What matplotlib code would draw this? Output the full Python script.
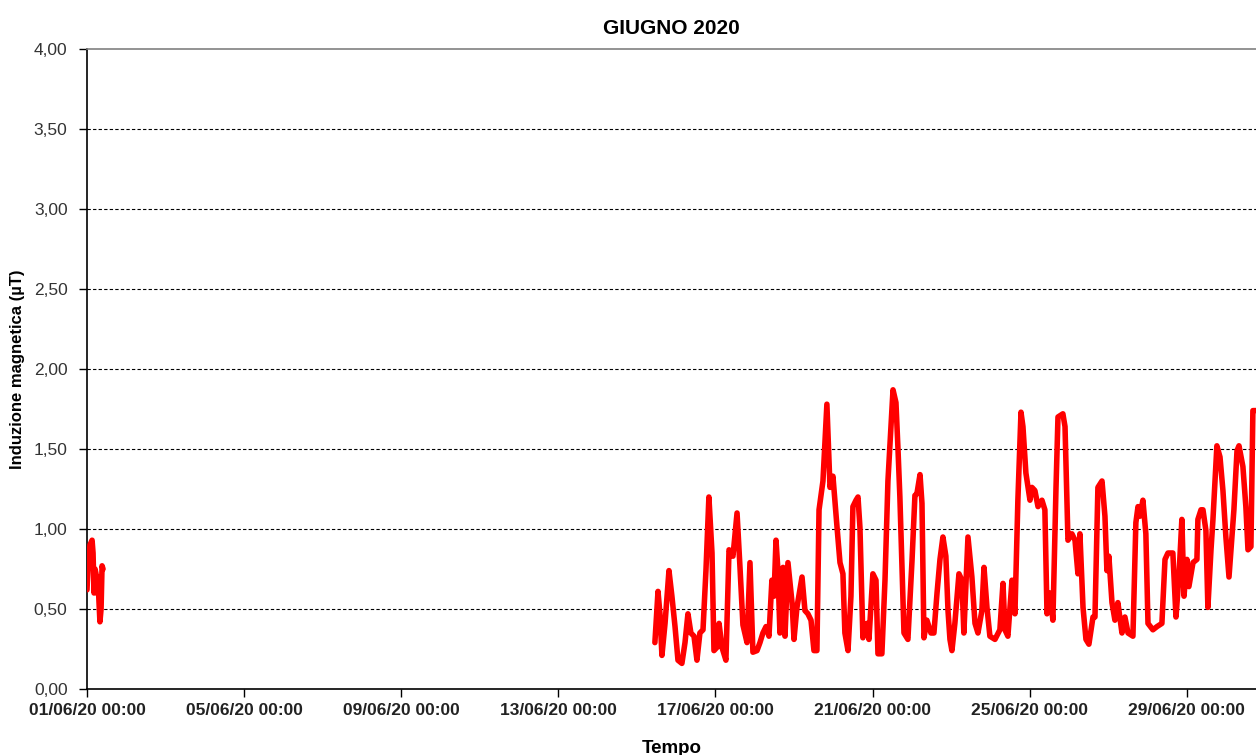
import matplotlib
matplotlib.use("Agg")
import matplotlib.pyplot as plt
import matplotlib.dates as mdates
import matplotlib.ticker as mticker
import numpy as np
import pandas as pd

# --- data: hours since 01/06/2020 00:00 and induction values (µT) ---
hours_1 = [0, 0.6, 1.8, 3.1, 3.7, 4.3, 4.9, 5.5, 6.1, 6.7, 7.3, 7.9, 8.6, 9.2, 9.8]
values_1 = [0.62, 0.75, 0.90, 0.93, 0.85, 0.60, 0.75, 0.72, 0.60, 0.70, 0.55, 0.42, 0.50, 0.77, 0.75]

hours_2 = [347.0, 348.9, 350.1, 351.3, 353.2, 355.6, 357.4, 359.3, 361.1, 363.5,
           365.4, 367.2, 369.0, 370.9, 372.7, 374.5, 376.4, 378.2, 380.0, 381.9,
           383.1, 384.9, 386.2, 388.0, 390.4, 392.3, 394.7, 397.2, 399.0, 400.8,
           403.3, 405.1, 406.9, 409.4, 411.2, 413.0, 414.9, 416.7, 418.5, 419.8,
           421.0, 422.2, 423.4, 425.3, 426.5, 428.3, 430.8, 432.0, 433.8, 436.9,
           438.7, 440.5, 442.4, 444.2, 446.0, 447.3, 449.7, 452.1, 454.0, 455.8,
           458.3, 460.1, 461.9, 463.1, 465.0, 466.8, 468.0, 469.9, 471.1, 472.3,
           474.1, 476.6, 477.8, 480.2, 482.1, 483.3, 485.7, 487.6, 489.4, 492.5,
           494.3, 495.5, 496.7, 499.2, 501.6, 504.1, 505.9, 507.1, 509.0, 510.2,
           511.4, 513.2, 515.7, 517.5, 519.4, 521.2, 523.0, 524.8, 526.1, 527.3,
           528.5, 530.3, 532.8, 534.6, 535.8, 538.3, 540.7, 542.6, 544.4, 546.8,
           548.1, 549.9, 551.7, 554.8, 557.8, 559.7, 560.9, 562.7, 565.2, 567.0,
           568.8, 570.7, 571.9, 573.7, 576.2, 577.4, 579.2, 581.1, 583.5, 585.3,
           586.6, 588.4, 590.2, 592.1, 593.3, 596.3, 597.6, 599.4, 601.8, 603.7,
           605.5, 606.7, 608.6, 610.4, 612.2, 614.7, 615.9, 617.7, 620.2, 622.0,
           623.2, 624.4, 626.3, 628.1, 629.9, 632.4, 634.2, 636.1, 639.1, 640.9,
           642.2, 643.4, 645.2, 647.0, 648.3, 651.3, 653.8, 656.8, 658.7, 660.5,
           663.5, 665.4, 667.2, 669.0, 670.3, 672.1, 673.3, 675.8, 678.2, 678.8,
           680.7, 681.9, 683.7, 684.9, 686.8, 688.0, 690.4, 692.3, 694.1, 695.9,
           697.8, 699.6, 700.8, 702.7, 703.9, 706.3, 708.1, 709.4, 711.2, 712.4,
           715.0]
values_2 = [0.29, 0.61, 0.47, 0.21, 0.41, 0.74, 0.58, 0.39, 0.18, 0.16,
            0.29, 0.47, 0.35, 0.33, 0.18, 0.35, 0.37, 0.74, 1.20, 0.85,
            0.24, 0.26, 0.41, 0.26, 0.18, 0.87, 0.83, 1.10, 0.76, 0.40,
            0.29, 0.79, 0.23, 0.24, 0.29, 0.35, 0.39, 0.33, 0.68, 0.58,
            0.93, 0.74, 0.35, 0.76, 0.33, 0.79, 0.54, 0.31, 0.51, 0.70,
            0.49, 0.47, 0.43, 0.24, 0.24, 1.12, 1.30, 1.78, 1.26, 1.33,
            1.01, 0.79, 0.72, 0.35, 0.24, 0.58, 1.14, 1.18, 1.20, 1.01,
            0.32, 0.41, 0.31, 0.72, 0.68, 0.22, 0.22, 0.68, 1.30, 1.87,
            1.79, 1.51, 1.20, 0.35, 0.31, 0.80, 1.21, 1.22, 1.34, 1.16,
            0.32, 0.43, 0.35, 0.35, 0.60, 0.81, 0.95, 0.83, 0.49, 0.31,
            0.24, 0.41, 0.72, 0.68, 0.35, 0.95, 0.70, 0.41, 0.35, 0.49,
            0.76, 0.51, 0.33, 0.31, 0.37, 0.66, 0.37, 0.33, 0.68, 0.47,
            1.18, 1.73, 1.64, 1.35, 1.18, 1.26, 1.24, 1.14, 1.18, 1.12,
            0.47, 0.60, 0.43, 1.26, 1.70, 1.72, 1.64, 0.93, 0.97, 0.93,
            0.72, 0.97, 0.51, 0.31, 0.28, 0.45, 0.45, 1.26, 1.30, 1.08,
            0.74, 0.83, 0.54, 0.43, 0.54, 0.35, 0.45, 0.35, 0.33, 1.04,
            1.14, 1.08, 1.18, 0.97, 0.41, 0.37, 0.39, 0.41, 0.81, 0.85,
            0.85, 0.45, 0.70, 1.06, 0.58, 0.81, 0.64, 0.79, 0.81, 1.06,
            1.12, 1.12, 0.99, 0.51, 0.87, 1.06, 1.52, 1.45, 1.24, 0.95,
            0.70, 0.95, 1.12, 1.49, 1.52, 1.39, 1.14, 0.87, 0.89, 1.74,
            1.74]

y_ticks = [0.0, 0.5, 1.0, 1.5, 2.0, 2.5, 3.0, 3.5, 4.0]
title = "GIUGNO 2020"
x_label = "Tempo"
y_label = "Induzione magnetica (µT)"

start = pd.Timestamp("2020-06-01 00:00")
t1 = start + pd.to_timedelta(hours_1, unit="h")
t2 = start + pd.to_timedelta(hours_2, unit="h")

plt.rcParams['font.family'] = ['Liberation Sans', 'DejaVu Sans']

fig = plt.figure(figsize=(12.56, 7.55), dpi=100)
ax = fig.add_axes([87/1256, 1-689/755, 1-87/1256, (689-49)/755])

for t, v in ((t1, values_1), (t2, values_2)):
    ax.plot(t, v, color="#ff0000", lw=4.0, solid_joinstyle="round",
            solid_capstyle="round", zorder=3)

ax.set_ylim(0, 4)
ax.set_yticks(y_ticks)
ax.yaxis.set_major_formatter(mticker.FuncFormatter(lambda v, p: f"{v:.2f}".replace(".", ",")))
ax.set_xlim(start, start + pd.Timedelta(hours=714.3))
ax.xaxis.set_major_locator(mdates.DayLocator(bymonthday=[1, 5, 9, 13, 17, 21, 25, 29]))
ax.xaxis.set_major_formatter(mdates.DateFormatter("%d/%m/%y %H:%M"))

for y in y_ticks[1:-1]:
    ax.axhline(y, color="black", lw=0.8, ls=(0, (3, 2)), zorder=1)

ax.spines['right'].set_visible(False)
ax.spines['top'].set_color("#808080")
ax.spines['top'].set_linewidth(1.2)
ax.spines['left'].set_linewidth(1.2)
ax.spines['bottom'].set_linewidth(1.2)

ax.tick_params(axis='both', direction='out', length=6, width=1.0, color="black")
ax.tick_params(axis='y', labelsize=12.5, colors="black", pad=8)
ax.tick_params(axis='x', labelsize=12.5, pad=4)
for lab in ax.get_yticklabels():
    lab.set_color("#333333")
for lab in ax.get_xticklabels():
    lab.set_fontweight("bold")
    lab.set_color("#222222")

ax.set_title(title, fontsize=15, fontweight="bold", pad=11)
ax.set_xlabel(x_label, fontsize=13.5, fontweight="bold", labelpad=16)
ax.set_ylabel(y_label, fontsize=12, fontweight="bold", labelpad=6)

fig.savefig("out.png", dpi=100)
